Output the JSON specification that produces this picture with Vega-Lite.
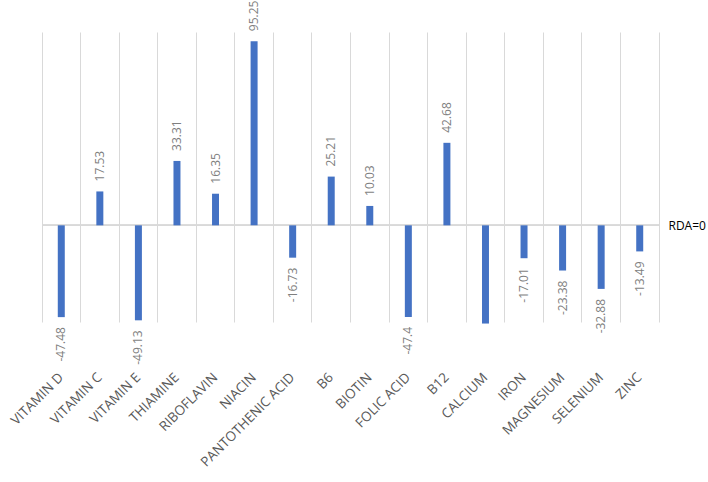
{
  "$schema": "https://vega.github.io/schema/vega-lite/v6.json",
  "width": 617,
  "height": 290,
  "autosize": {"type": "none"},
  "padding": {"left": 42, "top": 32, "right": 49, "bottom": 160},
  "background": "white",
  "config": {"view": {"stroke": null}, "font": "Open Sans"},
  "data": {
    "values": [
      {"nutrient": "VITAMIN D", "value": -47.48},
      {"nutrient": "VITAMIN C", "value": 17.53},
      {"nutrient": "VITAMIN E", "value": -49.13},
      {"nutrient": "THIAMINE", "value": 33.31},
      {"nutrient": "RIBOFLAVIN", "value": 16.35},
      {"nutrient": "NIACIN", "value": 95.25},
      {"nutrient": "PANTOTHENIC ACID", "value": -16.73},
      {"nutrient": "B6", "value": 25.21},
      {"nutrient": "BIOTIN", "value": 10.03},
      {"nutrient": "FOLIC ACID", "value": -47.4},
      {"nutrient": "B12", "value": 42.68},
      {"nutrient": "CALCIUM", "value": -50.8},
      {"nutrient": "IRON", "value": -17.01},
      {"nutrient": "MAGNESIUM", "value": -23.38},
      {"nutrient": "SELENIUM", "value": -32.88},
      {"nutrient": "ZINC", "value": -13.49}
    ]
  },
  "encoding": {
    "x": {
      "field": "nutrient",
      "type": "nominal",
      "sort": null,
      "scale": {"paddingInner": 0, "paddingOuter": 0},
      "axis": {
        "title": null,
        "domain": false,
        "ticks": false,
        "grid": true,
        "gridColor": "#d9d9d9",
        "gridWidth": 1,
        "bandPosition": 0,
        "labelAngle": -45,
        "labelAlign": "right",
        "labelBaseline": "middle",
        "labelPadding": 53,
        "labelFont": "Open Sans",
        "labelFontSize": 13.5,
        "labelColor": "#595959",
        "labelLimit": 300
      }
    }
  },
  "layer": [
    {
      "mark": {"type": "rule", "color": "#d9d9d9", "strokeWidth": 1},
      "encoding": {"y": {"datum": 0, "type": "quantitative"}, "x": null}
    },
    {
      "mark": {"type": "bar", "color": "#4472C4", "size": 7},
      "encoding": {
        "y": {
          "field": "value",
          "type": "quantitative",
          "scale": {"domain": [-50, 100], "nice": false, "zero": true},
          "axis": {
            "orient": "right",
            "title": null,
            "values": [0],
            "labelExpr": "'RDA=0'",
            "labelColor": "#000000",
            "labelFont": "Open Sans",
            "labelFontSize": 12,
            "labelPadding": 9,
            "ticks": false,
            "grid": false,
            "domain": true,
            "domainColor": "#d9d9d9",
            "domainWidth": 1
          }
        }
      }
    },
    {
      "transform": [{"filter": "datum.value >= 0"}],
      "mark": {"type": "text", "angle": -90, "align": "left", "baseline": "middle", "dx": 10, "color": "#7f7f7f", "fontSize": 12, "font": "Open Sans"},
      "encoding": {
        "y": {"field": "value", "type": "quantitative"},
        "text": {"field": "value", "type": "nominal"}
      }
    },
    {
      "transform": [{"filter": "datum.value < 0 && datum.value >= -50"}],
      "mark": {"type": "text", "angle": -90, "align": "right", "baseline": "middle", "dx": -10, "color": "#7f7f7f", "fontSize": 12, "font": "Open Sans"},
      "encoding": {
        "y": {"field": "value", "type": "quantitative"},
        "text": {"field": "value", "type": "nominal"}
      }
    }
  ]
}
